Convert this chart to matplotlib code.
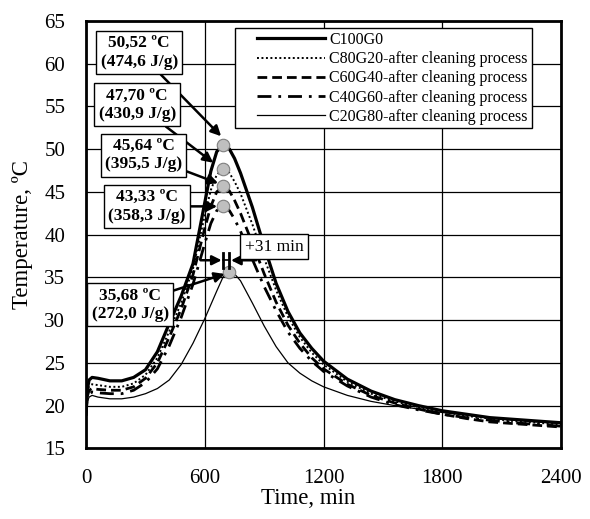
import matplotlib
matplotlib.use("Agg")
import matplotlib.pyplot as plt
from matplotlib.patches import Rectangle

plt.rcParams['font.family'] = ['Liberation Serif', 'DejaVu Serif']

# Temperature records (time in minutes, temperature in °C)
time_min = [0, 5, 15, 30, 60, 120, 180, 240, 300, 360, 420, 480, 540, 600, 630,
            660, 693, 724, 750, 780, 840, 900, 960, 1020, 1080, 1140, 1200, 1320,
            1440, 1560, 1680, 1800, 1920, 2040, 2160, 2280, 2400]

c100g0 = [19.0, 21.8, 23.0, 23.3, 23.2, 22.9, 22.9, 23.3, 24.2, 26.3, 29.6, 32.8,
          36.6, 43.8, 47.4, 49.7, 50.52, 50.0, 48.9, 47.2, 43.2, 38.6, 34.3, 31.0,
          28.5, 26.7, 25.2, 23.1, 21.7, 20.7, 20.0, 19.4, 19.0, 18.6, 18.4, 18.2, 18.0]
c80g20 = [19.5, 21.5, 22.3, 22.5, 22.4, 22.2, 22.2, 22.6, 23.6, 25.6, 28.7, 32.0,
          36.0, 42.3, 45.2, 47.0, 47.70, 47.2, 46.2, 44.8, 41.2, 37.2, 33.5, 30.4,
          28.0, 26.2, 24.8, 22.8, 21.4, 20.5, 19.8, 19.3, 18.8, 18.5, 18.2, 18.0, 17.8]
c60g40 = [19.3, 21.0, 21.8, 22.0, 21.9, 21.8, 21.8, 22.2, 23.2, 25.0, 28.0, 31.3,
          35.3, 40.8, 43.3, 45.0, 45.64, 45.1, 44.0, 42.5, 39.0, 35.4, 32.1, 29.4,
          27.3, 25.6, 24.3, 22.5, 21.2, 20.3, 19.6, 19.0, 18.5, 18.1, 17.9, 17.7, 17.5]
c40g60 = [19.2, 20.8, 21.4, 21.6, 21.5, 21.4, 21.4, 21.8, 22.7, 24.3, 27.0, 30.3,
          34.2, 39.0, 41.3, 42.8, 43.33, 42.8, 41.8, 40.4, 37.1, 33.9, 31.1, 28.6,
          26.7, 25.2, 24.0, 22.3, 21.0, 20.1, 19.5, 19.0, 18.6, 18.3, 18.0, 17.8, 17.6]
c20g80 = [19.5, 20.4, 21.0, 21.2, 21.0, 20.8, 20.8, 21.0, 21.4, 22.0, 23.0, 24.8,
          27.3, 30.2, 31.8, 33.4, 35.1, 35.68, 35.4, 34.6, 32.0, 29.3, 26.9, 25.0,
          23.8, 22.9, 22.2, 21.2, 20.5, 20.0, 19.6, 19.2, 18.9, 18.6, 18.3, 18.1, 17.9]

series_names = ["C100G0",
                "C80G20-after cleaning process",
                "C60G40-after cleaning process",
                "C40G60-after cleaning process",
                "C20G80-after cleaning process"]

# Peak values and latent heat
peak_time = [693, 693, 693, 693, 724]
peak_temp = [50.52, 47.70, 45.64, 43.33, 35.68]
latent_heat = [474.6, 430.9, 395.5, 358.3, 272.0]

x_ticks = [0, 600, 1200, 1800, 2400]
y_ticks = [15, 20, 25, 30, 35, 40, 45, 50, 55, 60, 65]

fig = plt.figure(figsize=(5.9, 5.19), dpi=100)
ax = fig.add_axes([0.146, 0.136, 0.805, 0.824])

styles = [
    dict(color='black', lw=2.3, linestyle='-'),
    dict(color='black', lw=1.4, linestyle=(0, (1, 1.3))),
    dict(color='black', lw=2.0, linestyle=(0, (3.5, 1.8))),
    dict(color='black', lw=2.0, linestyle=(0, (5, 2.5, 1, 2.5))),
    dict(color='black', lw=0.9, linestyle='-'),
]
for data, name, st in zip([c100g0, c80g20, c60g40, c40g60, c20g80], series_names, styles):
    ax.plot(time_min, data, label=name, zorder=3, **st)

ax.plot(peak_time, peak_temp, linestyle='none', marker='o', markersize=9,
        markerfacecolor='#bfbfbf', markeredgecolor='#7f7f7f', markeredgewidth=0.8,
        zorder=5)

ax.set_xlim(0, 2400)
ax.set_ylim(15, 65)
ax.set_xticks(x_ticks)
ax.set_yticks(y_ticks)
ax.tick_params(length=0, labelsize=15)
ax.tick_params(axis='x', pad=15)
ax.tick_params(axis='y', pad=15)
ax.grid(True, color='black', lw=0.9)
ax.set_axisbelow(True)
for sp in ax.spines.values():
    sp.set_linewidth(2.0)

ax.set_xlabel("Time, min", fontsize=16.5)
ax.set_ylabel("Temperature, ºC", fontsize=16.5)
ax.xaxis.set_label_coords(0.467, -0.092)
ax.yaxis.set_label_coords(-0.112, 0.5)

# Peak labels with arrows
label_pos = [(268, 61.3), (258, 55.2), (290, 49.3), (308, 43.3), (222, 31.8)]
arrow_tip = [(682, 51.5), (642, 48.4), (667, 46.0), (662, 43.3), (700, 35.4)]
for (lx, ly), tip, t, h in zip(label_pos, arrow_tip, peak_temp, latent_heat):
    txt = f"{t:.2f}".replace('.', ',') + " ºC\n(" + f"{h:.1f}".replace('.', ',') + " J/g)"
    ax.annotate(txt, xy=tip, xytext=(lx, ly), ha='center', va='center',
                fontsize=12.5, fontweight='bold', linespacing=1.2,
                bbox=dict(boxstyle='square,pad=0.25', fc='white', ec='black', lw=1.0),
                arrowprops=dict(arrowstyle='-|>', color='black', lw=1.8,
                                mutation_scale=15, shrinkA=0, shrinkB=0),
                zorder=6)

# Peak time shift marker
shift_y = 37.0
t_a, t_b = peak_time[0], peak_time[4]
ax.plot([t_a, t_a], [36.1, 37.9], color='black', lw=2.0, zorder=6)
ax.plot([t_b, t_b], [36.1, 37.9], color='black', lw=2.0, zorder=6)
ax.plot([t_a, t_b], [shift_y, shift_y], color='black', lw=1.2, zorder=6)
ax.annotate("", xy=(t_a - 8, shift_y), xytext=(t_a - 115, shift_y),
            arrowprops=dict(arrowstyle='-|>', color='black', lw=1.8,
                            mutation_scale=14, shrinkA=0, shrinkB=0), zorder=6)
ax.annotate("", xy=(t_b + 8, shift_y), xytext=(t_b + 135, shift_y),
            arrowprops=dict(arrowstyle='-|>', color='black', lw=1.8,
                            mutation_scale=14, shrinkA=0, shrinkB=0), zorder=6)
ax.text(950, 38.6, f"+{t_b - t_a} min", ha='center', va='center', fontsize=12.5,
        bbox=dict(boxstyle='square,pad=0.25', fc='white', ec='black', lw=1.0),
        zorder=7)

# Legend with a wider frame drawn separately
frame = Rectangle((0.314, 0.750), 0.625, 0.234, transform=ax.transAxes,
                  fc='white', ec='black', lw=1.0, zorder=7)
ax.add_patch(frame)
leg = ax.legend(loc='upper right', bbox_to_anchor=(0.94, 0.985), fontsize=11.5,
                handlelength=4.3, handletextpad=0.25, borderpad=0.3,
                labelspacing=0.2, frameon=False, borderaxespad=0)
leg.set_zorder(8)

fig.savefig("out.png", dpi=100)
